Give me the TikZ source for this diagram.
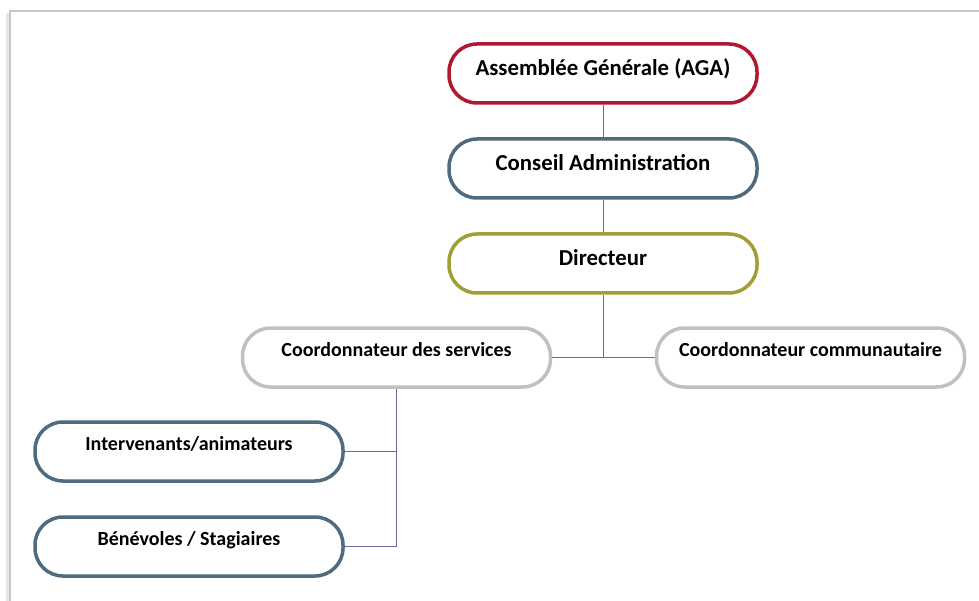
\documentclass[tikz,border=0pt]{standalone}
\usepackage{fontspec}
\setmainfont{Carlito}
\definecolor{agared}{RGB}{176,24,50}
\definecolor{slate}{RGB}{80,106,126}
\definecolor{olive}{RGB}{160,158,52}
\definecolor{pale}{RGB}{192,192,192}
\definecolor{link}{RGB}{110,100,168}
\begin{document}
\begin{tikzpicture}[x=1pt,y=-1pt,
    orgbox/.style={draw, line width=3.5pt, rounded corners=28pt, fill=white,
        minimum width=308pt, minimum height=59pt, inner sep=0pt},
    big/.style={font=\bfseries\fontsize{22.8}{26}\selectfont,
        text height=14pt, text depth=10.4pt},
    small/.style={font=\bfseries\fontsize{20}{23}\selectfont,
        text height=12pt, text depth=13.2pt},
    wire/.style={draw=link, line width=0.9pt}]
    \useasboundingbox (0,0) rectangle (979,601);
    % page edge
    \draw[black!10, line width=3pt] (7,601) -- (7,13);
    \draw[black!22, line width=1.2pt] (10,601) -- (10,11) -- (979,11);

    \node[orgbox,big,draw=agared] (aga) at (603,73.5) {Assemblée Générale (AGA)};
    \node[orgbox,big,draw=slate] (ca) at (603,168.5) {Conseil Administration};
    \node[orgbox,big,draw=olive] (dir) at (603,263.5) {Directeur};

    \node[orgbox,small,draw=pale] (cserv) at (396.5,357.5) {Coordonnateur des services};
    \node[orgbox,small,draw=pale] (ccomm) at (810.5,357.5) {Coordonnateur communautaire};

    \node[orgbox,small,draw=slate] (inter) at (189,451.5) {Intervenants/animateurs};
    \node[orgbox,small,draw=slate] (bene) at (189,546.5) {Bénévoles / Stagiaires};

    \draw[wire] (aga) -- (ca);
    \draw[wire] (ca) -- (dir);
    \draw[wire] (dir.south) -- (dir.south |- cserv.east);
    \draw[wire] (cserv.east) -- (ccomm.west);
    \draw[wire] (cserv.south) |- (inter.east);
    \draw[wire] (cserv.south) |- (bene.east);

\end{tikzpicture}
\end{document}
